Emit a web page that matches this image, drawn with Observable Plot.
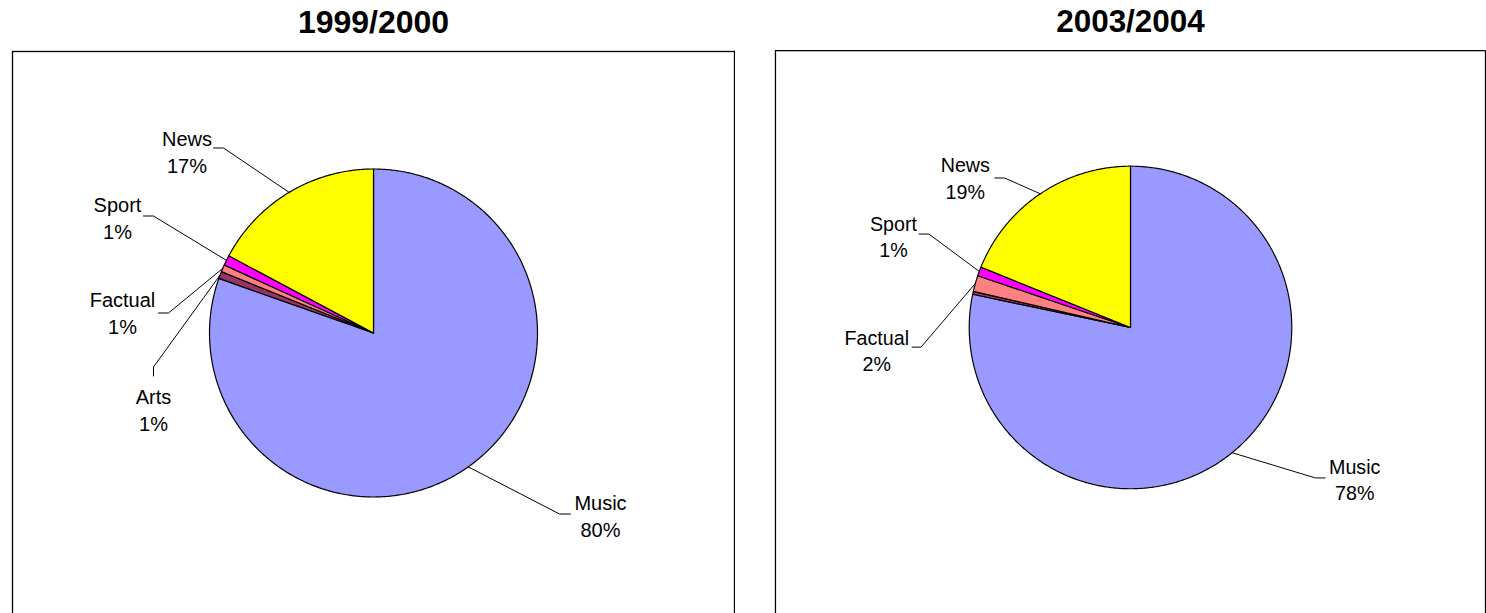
<!DOCTYPE html>
<html><head><meta charset="utf-8">
<script src="https://cdn.jsdelivr.net/npm/d3@7"></script>
<script src="https://cdn.jsdelivr.net/npm/@observablehq/plot@0.6"></script>
<style>
html,body{margin:0;padding:0;background:#fff;overflow:hidden;width:1486px;height:613px}
.panel{position:absolute;top:0}
#c1{left:11px} #c2{left:774px}
svg{font-family:"Liberation Sans",Arial,Helvetica,sans-serif}
</style></head>
<body><div id="c1" class="panel"></div><div id="c2" class="panel"></div>
<script>
// ---- data ----
const categories = ["Music", "Arts", "Factual", "Sport", "News"];
const values1999 = [80.4, 0.7, 0.7, 1.0, 17.2];
const values2003 = [78.3, 0.3, 1.6, 0.9, 18.9];
const titles = ["1999/2000", "2003/2004"];

// ---- styles ----
const sliceColors = ["#9999FF", "#993366", "#FF8080", "#FF00FF", "#FFFF00"];

// ---- label layout (pixel offsets from pie centre, y downward) ----
const layout1999 = {
  News:    {text: [-186.5, -182.5], tail: [-160, -185], elbow: [-150, -185]},
  Sport:   {text: [-256, -116.5],   tail: [-230, -117], elbow: [-220, -117]},
  Factual: {text: [-251, -21],      tail: [-215, -20],  elbow: [-205, -20]},
  Arts:    {text: [-220, 76],       tail: [-220, 43],   elbow: [-220, 34]},
  Music:   {text: [227, 181.5],     tail: [197, 181],   elbow: [186, 181]}
};
const layout2003 = {
  News:    {text: [-168, -153],  tail: [-138, -152], elbow: [-128, -152]},
  Sport:   {text: [-241, -93.5], tail: [-215, -95],  elbow: [-205, -95]},
  Factual: {text: [-258, 22.5],  tail: [-222, 20],   elbow: [-213, 20]},
  Music:   {text: [228, 153.5],  tail: [198, 153],   elbow: [188, 153]}
};

function pieChart(title, values, layout) {
  const R = 164;
  const total = d3.sum(values);
  let acc = 0;
  const slices = categories.map((c, i) => {
    const a0 = acc / total * 2 * Math.PI;
    acc += values[i];
    const a1 = acc / total * 2 * Math.PI;
    return {c, a0, a1, color: sliceColors[i], pct: Math.round(values[i] / total * 100)};
  });
  const pts = [];
  for (const s of slices) {
    pts.push({c: s.c, x: 0, y: 0, color: s.color});
    const n = Math.max(2, Math.ceil((s.a1 - s.a0) / (Math.PI / 360)));
    for (let k = 0; k <= n; k++) {
      const a = s.a0 + (s.a1 - s.a0) * k / n;
      pts.push({c: s.c, x: R * Math.sin(a), y: R * Math.cos(a), color: s.color});
    }
  }
  const leaders = [], labels = [];
  for (const s of slices) {
    const L = layout[s.c];
    if (!L || s.pct === 0) continue;
    const am = (s.a0 + s.a1) / 2;
    leaders.push({c: s.c, x: R * Math.sin(am), y: R * Math.cos(am)});
    leaders.push({c: s.c, x: L.elbow[0], y: -L.elbow[1]});
    leaders.push({c: s.c, x: L.tail[0], y: -L.tail[1]});
    labels.push({x: L.text[0], y: -L.text[1], t: `${s.c}\n${s.pct}%`});
  }
  return Plot.plot({
    width: 724, height: 640,
    marginLeft: 1, marginRight: 1, marginTop: 51, marginBottom: 1,
    x: {domain: [-361, 361], axis: null},
    y: {domain: [-306.5, 281.5], axis: null},
    color: {type: "identity"},
    style: {fontFamily: "'Liberation Sans', Arial, sans-serif", background: "transparent"},
    marks: [
      Plot.frame({stroke: "black", strokeWidth: 1.3}),
      Plot.line(pts, {x: "x", y: "y", z: "c", fill: "color", stroke: "black", strokeWidth: 1.2, curve: "linear-closed", strokeLinejoin: "round"}),
      Plot.line(leaders, {x: "x", y: "y", z: "c", stroke: "black", strokeWidth: 1}),
      Plot.text(labels, {x: "x", y: "y", text: "t", fontSize: 20, lineHeight: 1.35, fill: "black"}),
      Plot.text([title], {text: d => d, frameAnchor: "top", lineAnchor: "middle", dy: -29, fontSize: 32, fontWeight: "bold", fill: "black"})
    ]
  });
}

document.getElementById("c1").append(pieChart(titles[0], values1999, layout1999));
document.getElementById("c2").append(pieChart(titles[1], values2003, layout2003));
</script>
</body></html>
